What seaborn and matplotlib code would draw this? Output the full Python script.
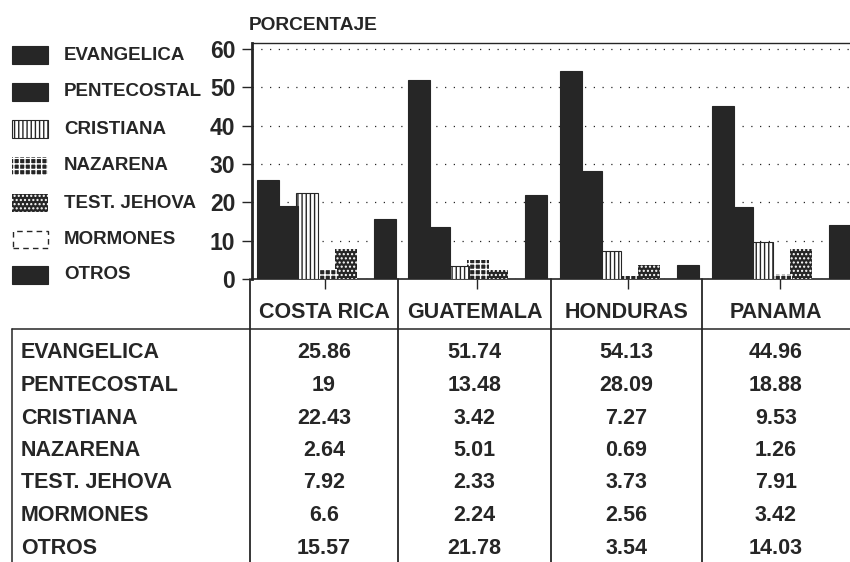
import numpy as np
import pandas as pd
import seaborn as sns

import matplotlib
matplotlib.use("Agg")

import matplotlib.pyplot as plt
from matplotlib.patches import Rectangle
from matplotlib.lines import Line2D

# Datos (porcentaje por pais)
paises = ["COSTA RICA", "GUATEMALA", "HONDURAS", "PANAMA"]
religiones = ["EVANGELICA", "PENTECOSTAL", "CRISTIANA", "NAZARENA",
              "TEST. JEHOVA", "MORMONES", "OTROS"]

evangelica = [25.86, 51.74, 54.13, 44.96]
pentecostal = [19, 13.48, 28.09, 18.88]
cristiana = [22.43, 3.42, 7.27, 9.53]
nazarena = [2.64, 5.01, 0.69, 1.26]
test_jehova = [7.92, 2.33, 3.73, 7.91]
mormones = [6.6, 2.24, 2.56, 3.42]
otros = [15.57, 21.78, 3.54, 14.03]

series = [evangelica, pentecostal, cristiana, nazarena,
          test_jehova, mormones, otros]

df = pd.DataFrame({
    "pais": paises * len(religiones),
    "religion": np.repeat(religiones, len(paises)),
    "valor": np.concatenate(series),
})

OSCURO = "#262626"
W, H = 850, 562


def fx(px):
    return px / W


def fy(py):
    return 1 - py / H


sns.set_theme(style="white")
plt.rcParams["font.family"] = ["Liberation Sans", "DejaVu Sans"]
plt.rcParams["hatch.linewidth"] = 1.0

estilos = {
    "EVANGELICA": dict(facecolor=OSCURO, edgecolor=OSCURO, hatch=None, lw=0.8),
    "PENTECOSTAL": dict(facecolor=OSCURO, edgecolor=OSCURO, hatch=None, lw=0.8),
    "CRISTIANA": dict(facecolor="white", edgecolor=OSCURO, hatch="||||", lw=0.8),
    "NAZARENA": dict(facecolor=OSCURO, edgecolor="white", hatch="+++", lw=0),
    "TEST. JEHOVA": dict(facecolor=OSCURO, edgecolor="white", hatch="....", lw=0),
    "MORMONES": dict(facecolor="none", edgecolor="none", hatch=None, lw=0),
    "OTROS": dict(facecolor=OSCURO, edgecolor=OSCURO, hatch=None, lw=0.8),
}

fig = plt.figure(figsize=(8.5, 5.62), dpi=100)
ax = fig.add_axes([fx(252), fy(279), fx(850) - fx(252), fy(43) - fy(279)])

sns.barplot(
    data=df, x="pais", y="valor", hue="religion",
    order=paises, hue_order=religiones,
    width=0.9, saturation=1, legend=False, ax=ax
)

# estilo de cada serie, barras un poco solapadas
for i, (rel, cont) in enumerate(zip(religiones, ax.containers)):
    st = estilos[rel]
    for p in cont.patches:
        p.set_width(p.get_width() * 1.13)
        p.set_facecolor(st["facecolor"])
        p.set_edgecolor(st["edgecolor"])
        p.set_hatch(st["hatch"])
        p.set_linewidth(st["lw"])
        p.set_zorder(10 - i)

ax.set_xlim(-0.48, 3.46)
ax.set_ylim(0, 61.5)
ax.set_yticks(range(0, 70, 10))
ax.set_xlabel("")
ax.set_ylabel("")
ax.set_xticklabels([])
ax.grid(axis="y", linestyle=(0, (1, 6)), color=OSCURO, linewidth=0.9)
ax.grid(axis="x", visible=False)
ax.set_axisbelow(True)

for lado in ["top", "bottom", "left", "right"]:
    ax.spines[lado].set_color(OSCURO)
ax.spines["right"].set_visible(False)
ax.spines["left"].set_linewidth(2.0)
ax.spines["top"].set_linewidth(1.0)
ax.spines["bottom"].set_linewidth(1.2)

ax.tick_params(axis="y", left=True, length=7, width=1, color=OSCURO,
               pad=5, labelsize=16.5, labelcolor=OSCURO)
ax.tick_params(axis="x", bottom=True, length=7, width=1, color=OSCURO)
for t in ax.get_yticklabels():
    t.set_fontweight("bold")

# titulo
fig.text(fx(249), fy(25), "PORCENTAJE", fontsize=13.8, fontweight="bold",
         color=OSCURO, ha="left", va="center")

# leyenda
filas_leyenda = [55, 92, 129, 166, 203, 240, 275]
for rel, yc in zip(religiones, filas_leyenda):
    st = estilos[rel]
    if rel == "MORMONES":
        caja = Rectangle((fx(13), fy(yc + 8)), fx(35), fy(0) - fy(17),
                         transform=fig.transFigure, facecolor="white",
                         edgecolor=OSCURO, linewidth=1, linestyle=(0, (4, 3)))
    else:
        caja = Rectangle((fx(12), fy(yc + 9)), fx(36), fy(0) - fy(18),
                         transform=fig.transFigure, facecolor=st["facecolor"],
                         edgecolor=st["edgecolor"], hatch=st["hatch"],
                         linewidth=st["lw"])
    fig.add_artist(caja)
    fig.text(fx(64), fy(yc), rel, fontsize=13.5, fontweight="bold",
             color=OSCURO, ha="left", va="center")

# tabla de datos
columnas_x = [250, 398, 551, 702, 850]
for xc in columnas_x[:-1]:
    fig.add_artist(Line2D([fx(xc), fx(xc)], [fy(279), fy(562)],
                          transform=fig.transFigure, color=OSCURO, lw=1.3))
fig.add_artist(Line2D([fx(12), fx(850)], [fy(329), fy(329)],
                      transform=fig.transFigure, color=OSCURO, lw=1.1))
fig.add_artist(Line2D([fx(12), fx(12)], [fy(329), fy(562)],
                      transform=fig.transFigure, color=OSCURO, lw=1.1))

for j, pais in enumerate(paises):
    xc = (columnas_x[j] + columnas_x[j + 1]) / 2
    fig.text(fx(xc), fy(312), pais, fontsize=15.5, fontweight="bold",
             color=OSCURO, ha="center", va="center")

for i, (rel, vals) in enumerate(zip(religiones, series)):
    yc = 353 + i * 32.5
    fig.text(fx(21), fy(yc), rel, fontsize=15.5, fontweight="bold",
             color=OSCURO, ha="left", va="center")
    for j, v in enumerate(vals):
        xc = (columnas_x[j] + columnas_x[j + 1]) / 2
        fig.text(fx(xc), fy(yc), f"{v:g}", fontsize=15.5, fontweight="bold",
                 color=OSCURO, ha="center", va="center")

fig.savefig("out.png", dpi=100, facecolor="white")
